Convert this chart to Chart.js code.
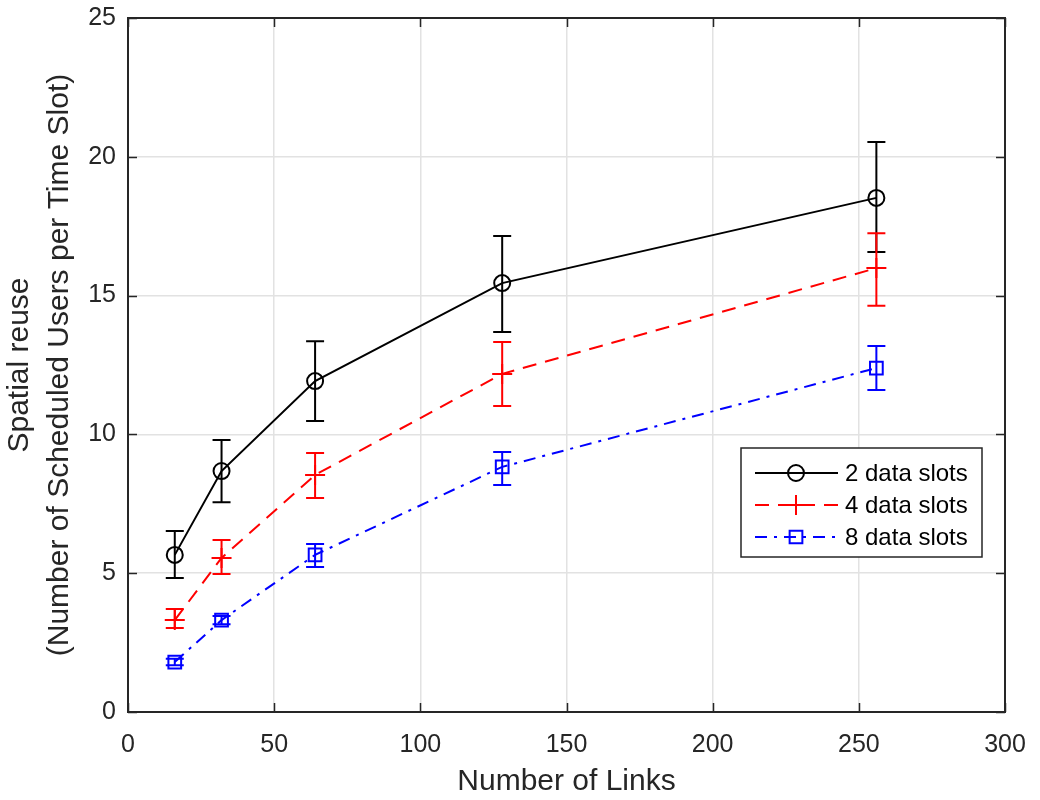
<!DOCTYPE html>
<html>
<head>
<meta charset="utf-8">
<script src="https://cdn.jsdelivr.net/npm/chart.js@4/dist/chart.umd.min.js"></script>
<style>
  html, body { margin: 0; padding: 0; background: #fff; }
  #wrap { width: 1040px; height: 800px; }
</style>
</head>
<body>
<div id="wrap"><canvas id="chart" width="1040" height="800"></canvas></div>
<script>
// Number of links (x positions)
const links = [16, 32, 64, 128, 256];

// Mean spatial reuse for each configuration
const slots2 = [5.66, 8.68, 11.92, 15.45, 18.52];
const slots4 = [3.31, 5.55, 8.54, 12.18, 15.99];
const slots8 = [1.80, 3.31, 5.66, 8.83, 12.39];

// Error bar ends (lower / upper)
const slots2Low = [4.83, 7.56, 10.48, 13.69, 16.57];
const slots2High = [6.52, 9.80, 13.36, 17.15, 20.53];
const slots4Low = [3.03, 4.97, 7.71, 11.02, 14.63];
const slots4High = [3.71, 6.20, 9.33, 13.33, 17.25];
const slots8Low = [1.68, 3.16, 5.22, 8.18, 11.60];
const slots8High = [1.92, 3.46, 6.05, 9.37, 13.18];

const xTicks = [0, 50, 100, 150, 200, 250, 300];
const yTicks = [0, 5, 10, 15, 20, 25];

const seriesNames = ['2 data slots', '4 data slots', '8 data slots'];

const axisColor = '#262626';
const fontFamily = '"Liberation Sans", Arial, Helvetica, sans-serif';

function toPoints(ys) {
    return links.map((x, i) => ({ x: x, y: ys[i] }));
}

// Draws the error bars, the boxed axes with inward ticks, and the legend box
const matlabLook = {
    id: 'matlabLook',
    afterDatasetsDraw(chart) {
        const ctx = chart.ctx;
        const xs = chart.scales.x;
        const ys = chart.scales.y;
        ctx.save();
        chart.data.datasets.forEach(ds => {
            ctx.strokeStyle = ds.borderColor;
            ctx.lineWidth = 2;
            ctx.setLineDash([]);
            links.forEach((lx, i) => {
                const px = xs.getPixelForValue(lx);
                const lo = ys.getPixelForValue(ds.errLow[i]);
                const hi = ys.getPixelForValue(ds.errHigh[i]);
                const cap = 9;
                ctx.beginPath();
                ctx.moveTo(px, lo); ctx.lineTo(px, hi);
                ctx.moveTo(px - cap, lo); ctx.lineTo(px + cap, lo);
                ctx.moveTo(px - cap, hi); ctx.lineTo(px + cap, hi);
                ctx.stroke();
            });
        });
        ctx.restore();
    },
    afterDraw(chart) {
        const ctx = chart.ctx;
        const a = chart.chartArea;
        const xs = chart.scales.x;
        const ys = chart.scales.y;
        ctx.save();
        ctx.strokeStyle = axisColor;
        ctx.lineWidth = 1.5;
        ctx.setLineDash([]);
        // inward tick marks on all four sides
        const tl = 9;
        ctx.beginPath();
        xTicks.forEach(v => {
            const px = Math.round(xs.getPixelForValue(v)) + 0.5;
            ctx.moveTo(px, a.bottom); ctx.lineTo(px, a.bottom - tl);
            ctx.moveTo(px, a.top); ctx.lineTo(px, a.top + tl);
        });
        yTicks.forEach(v => {
            const py = Math.round(ys.getPixelForValue(v)) + 0.5;
            ctx.moveTo(a.left, py); ctx.lineTo(a.left + tl, py);
            ctx.moveTo(a.right, py); ctx.lineTo(a.right - tl, py);
        });
        ctx.stroke();
        // axes box
        ctx.lineWidth = 2;
        ctx.strokeRect(a.left, a.top, a.right - a.left, a.bottom - a.top);

        // legend
        const lx = 741, ly = 448, lw = 241, lh = 109;
        ctx.fillStyle = '#fff';
        ctx.fillRect(lx, ly, lw, lh);
        ctx.lineWidth = 1.5;
        ctx.strokeStyle = axisColor;
        ctx.strokeRect(lx, ly, lw, lh);
        const rows = [473, 505, 537];
        ctx.font = '24px ' + fontFamily;
        ctx.textBaseline = 'middle';
        ctx.textAlign = 'left';
        chart.data.datasets.forEach((ds, i) => {
            const y = rows[i];
            ctx.strokeStyle = ds.borderColor;
            ctx.lineWidth = 2;
            ctx.setLineDash(ds.borderDash || []);
            ctx.beginPath();
            ctx.moveTo(755, y); ctx.lineTo(838, y);
            ctx.stroke();
            ctx.setLineDash([]);
            const mx = 796;
            ctx.beginPath();
            if (ds.pointStyle === 'circle') {
                ctx.arc(mx, y, ds.pointRadius, 0, Math.PI * 2);
            } else if (ds.pointStyle === 'cross') {
                const r = ds.pointRadius;
                ctx.moveTo(mx - r, y); ctx.lineTo(mx + r, y);
                ctx.moveTo(mx, y - r); ctx.lineTo(mx, y + r);
            } else {
                const s = ds.pointRadius * Math.SQRT1_2;
                ctx.rect(mx - s, y - s, 2 * s, 2 * s);
            }
            ctx.stroke();
            ctx.fillStyle = '#000';
            ctx.fillText(ds.label, 845, y + 1);
        });
        ctx.restore();
    }
};

const ctx = document.getElementById('chart').getContext('2d');

new Chart(ctx, {
    type: 'line',
    data: {
        datasets: [
            {
                label: seriesNames[0],
                data: toPoints(slots2),
                errLow: slots2Low,
                errHigh: slots2High,
                borderColor: '#000000',
                backgroundColor: 'rgba(0,0,0,0)',
                borderWidth: 2,
                pointStyle: 'circle',
                pointRadius: 8,
                pointBorderWidth: 2,
                pointBackgroundColor: 'rgba(0,0,0,0)'
            },
            {
                label: seriesNames[1],
                data: toPoints(slots4),
                errLow: slots4Low,
                errHigh: slots4High,
                borderColor: '#ff0000',
                backgroundColor: 'rgba(0,0,0,0)',
                borderWidth: 2,
                borderDash: [14, 9],
                pointStyle: 'cross',
                pointRadius: 10,
                pointBorderWidth: 2,
                pointBackgroundColor: 'rgba(0,0,0,0)'
            },
            {
                label: seriesNames[2],
                data: toPoints(slots8),
                errLow: slots8Low,
                errHigh: slots8High,
                borderColor: '#0000ff',
                backgroundColor: 'rgba(0,0,0,0)',
                borderWidth: 2,
                borderDash: [12, 7, 3, 7],
                pointStyle: 'rect',
                pointRadius: 9,
                pointBorderWidth: 2,
                pointBackgroundColor: 'rgba(0,0,0,0)'
            }
        ]
    },
    options: {
        responsive: false,
        animation: false,
        clip: false,
        layout: { padding: { left: 0, right: 35, top: 18, bottom: 0 } },
        plugins: {
            legend: { display: false },
            tooltip: { enabled: false }
        },
        scales: {
            x: {
                type: 'linear',
                min: 0,
                max: 300,
                afterFit: s => {
                    s.height = 88;
                    s.paddingLeft = 0;
                    s.paddingRight = 0;
                },
                afterBuildTicks: s => { s.ticks = xTicks.map(v => ({ value: v })); },
                grid: { color: '#e2e2e2', lineWidth: 1.5, drawTicks: false },
                border: { display: false },
                ticks: {
                    color: axisColor,
                    padding: 18,
                    font: { family: fontFamily, size: 25 }
                },
                title: {
                    display: true,
                    text: 'Number of Links',
                    color: axisColor,
                    padding: 0,
                    font: { family: fontFamily, size: 30, lineHeight: 1.2 }
                }
            },
            y: {
                type: 'linear',
                min: 0,
                max: 25,
                afterFit: s => {
                    s.width = 128;
                    s.paddingTop = 0;
                    s.paddingBottom = 0;
                },
                afterBuildTicks: s => { s.ticks = yTicks.map(v => ({ value: v })); },
                grid: { color: '#e2e2e2', lineWidth: 1.5, drawTicks: false },
                border: { display: false },
                ticks: {
                    color: axisColor,
                    padding: 12,
                    font: { family: fontFamily, size: 25 }
                },
                title: {
                    display: true,
                    text: ['Spatial reuse', '(Number of Scheduled Users per Time Slot)'],
                    color: axisColor,
                    padding: 0,
                    font: { family: fontFamily, size: 30, lineHeight: 1.333 }
                }
            }
        }
    },
    plugins: [matlabLook]
});
</script>
</body>
</html>
